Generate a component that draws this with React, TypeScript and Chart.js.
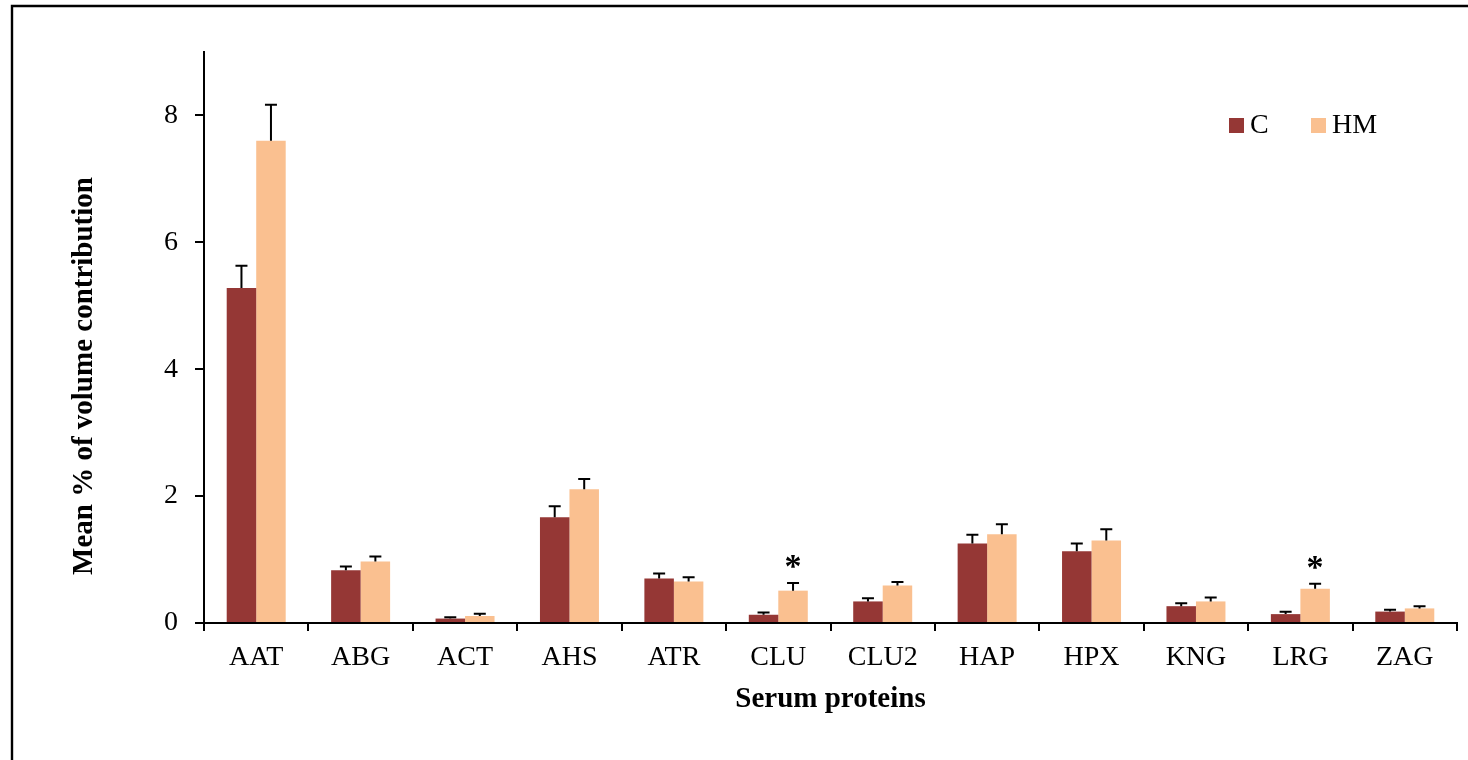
import { useEffect, useRef } from 'react';
import { Chart, registerables } from 'chart.js';

Chart.register(...registerables);

const categories = ['AAT', 'ABG', 'ACT', 'AHS', 'ATR', 'CLU', 'CLU2', 'HAP', 'HPX', 'KNG', 'LRG', 'ZAG'];
const seriesNames = ['C', 'HM'];
const seriesC = [5.28, 0.83, 0.07, 1.665, 0.7, 0.13, 0.34, 1.255, 1.13, 0.265, 0.14, 0.18];
const errC = [0.35, 0.06, 0.02, 0.175, 0.08, 0.035, 0.05, 0.135, 0.125, 0.045, 0.037, 0.03];
const seriesHM = [7.6, 0.97, 0.11, 2.11, 0.655, 0.51, 0.59, 1.4, 1.3, 0.34, 0.54, 0.23];
const errHM = [0.57, 0.08, 0.035, 0.16, 0.065, 0.12, 0.055, 0.155, 0.176, 0.06, 0.08, 0.035];
const significant = ['CLU', 'LRG'];
const yTicks = [0, 2, 4, 6, 8];
const colors = ['#953735', '#FAC090'];

const FONT = '"Liberation Serif", "Times New Roman", Times, serif';

export default function App() {
  const ref = useRef<HTMLCanvasElement>(null);

  useEffect(() => {
    if (!ref.current) return;
    const errs = [errC, errHM];

    const framePlugin = {
      id: 'frame',
      beforeDraw(chart: any) {
        const { ctx } = chart;
        ctx.save();
        ctx.fillStyle = '#fff';
        ctx.fillRect(0, 0, chart.width, chart.height);
        ctx.strokeStyle = '#000';
        ctx.lineWidth = 2.4;
        ctx.beginPath();
        ctx.moveTo(12, chart.height + 2);
        ctx.lineTo(12, 6);
        ctx.lineTo(chart.width + 2, 6);
        ctx.stroke();
        ctx.restore();
      },
    };

    const errorPlugin = {
      id: 'errorBars',
      afterDatasetsDraw(chart: any) {
        const { ctx } = chart;
        const y = chart.scales.y;
        ctx.save();
        ctx.strokeStyle = '#000';
        ctx.lineWidth = 2;
        chart.data.datasets.forEach((ds: any, di: number) => {
          const meta = chart.getDatasetMeta(di);
          meta.data.forEach((bar: any, i: number) => {
            const v = ds.data[i];
            const e = errs[di][i];
            const x = bar.x;
            const y0 = y.getPixelForValue(v);
            const y1 = y.getPixelForValue(v + e);
            ctx.beginPath();
            ctx.moveTo(x, y0);
            ctx.lineTo(x, y1);
            ctx.moveTo(x - 6, y1);
            ctx.lineTo(x + 6, y1);
            ctx.stroke();
          });
        });
        const meta = chart.getDatasetMeta(1);
        ctx.fillStyle = '#000';
        ctx.font = `bold 34px ${FONT}`;
        ctx.textAlign = 'center';
        ctx.textBaseline = 'alphabetic';
        categories.forEach((c, i) => {
          if (significant.includes(c)) {
            const bar = meta.data[i];
            const yy = y.getPixelForValue(seriesHM[i] + errHM[i]);
            ctx.fillText('*', bar.x, yy - 6);
          }
        });
        ctx.restore();
      },
    };

    const legendPlugin = {
      id: 'customLegend',
      afterDraw(chart: any) {
        const { ctx } = chart;
        ctx.save();
        ctx.font = `28px ${FONT}`;
        ctx.textBaseline = 'middle';
        ctx.textAlign = 'left';
        const starts = [1229, 1311];
        chart.data.datasets.forEach((ds: any, di: number) => {
          const x = starts[di];
          ctx.fillStyle = ds.backgroundColor;
          ctx.fillRect(x, 118, 15, 15);
          ctx.fillStyle = '#000';
          ctx.fillText(ds.label, x + 21, 126);
        });
        ctx.restore();
      },
    };

    const yTitlePlugin = {
      id: 'yTitle',
      afterDraw(chart: any) {
        const { ctx } = chart;
        ctx.save();
        ctx.font = `bold 29px ${FONT}`;
        ctx.fillStyle = '#000';
        ctx.textAlign = 'center';
        ctx.textBaseline = 'alphabetic';
        ctx.translate(92, 376);
        ctx.rotate(-Math.PI / 2);
        ctx.fillText('Mean % of volume contribution', 0, 0);
        ctx.restore();
      },
    };

    const chart = new Chart(ref.current, {
      type: 'bar',
      data: {
        labels: categories,
        datasets: [
          { label: seriesNames[0], data: seriesC, backgroundColor: colors[0], borderWidth: 0 },
          { label: seriesNames[1], data: seriesHM, backgroundColor: colors[1], borderWidth: 0 },
        ],
      },
      options: {
        animation: false,
        responsive: false,
        layout: { padding: { left: 0, right: 11, top: 52, bottom: 0 } },
        datasets: { bar: { categoryPercentage: 0.565, barPercentage: 1 } },
        plugins: { legend: { display: false }, tooltip: { enabled: false } },
        scales: {
          x: {
            type: 'category',
            grid: {
              display: true,
              drawOnChartArea: false,
              drawTicks: true,
              tickLength: 8,
              color: '#000',
              lineWidth: 2,
              offset: true,
            },
            border: { display: true, color: '#000', width: 2 },
            ticks: {
              color: '#000',
              font: { family: FONT, size: 28 },
              padding: 10,
              maxRotation: 0,
              autoSkip: false,
            },
            title: {
              display: true,
              text: 'Serum proteins',
              color: '#000',
              font: { family: FONT, size: 29, weight: 'bold' },
              padding: { top: 0, bottom: 43 },
            },
            afterFit(s: any) {
              s.height = 137;
            },
          },
          y: {
            min: 0,
            max: 9,
            grid: {
              display: true,
              drawOnChartArea: false,
              drawTicks: true,
              tickLength: 9,
              color: '#000',
              lineWidth: 2,
            },
            border: { display: true, color: '#000', width: 2 },
            ticks: {
              color: '#000',
              font: { family: FONT, size: 28 },
              padding: 17,
            },
            afterBuildTicks(s: any) {
              s.ticks = yTicks.map((v) => ({ value: v }));
            },
            afterFit(s: any) {
              s.width = 204;
            },
          },
        },
      },
      plugins: [framePlugin, errorPlugin, legendPlugin, yTitlePlugin],
    } as any);

    return () => chart.destroy();
  }, []);

  return (
    <div style={{ position: 'fixed', left: 0, top: 0, width: 1468, height: 760, background: '#fff', overflow: 'hidden' }}>
      <canvas ref={ref} width={1468} height={760} style={{ width: 1468, height: 760, display: 'block' }} />
    </div>
  );
}
